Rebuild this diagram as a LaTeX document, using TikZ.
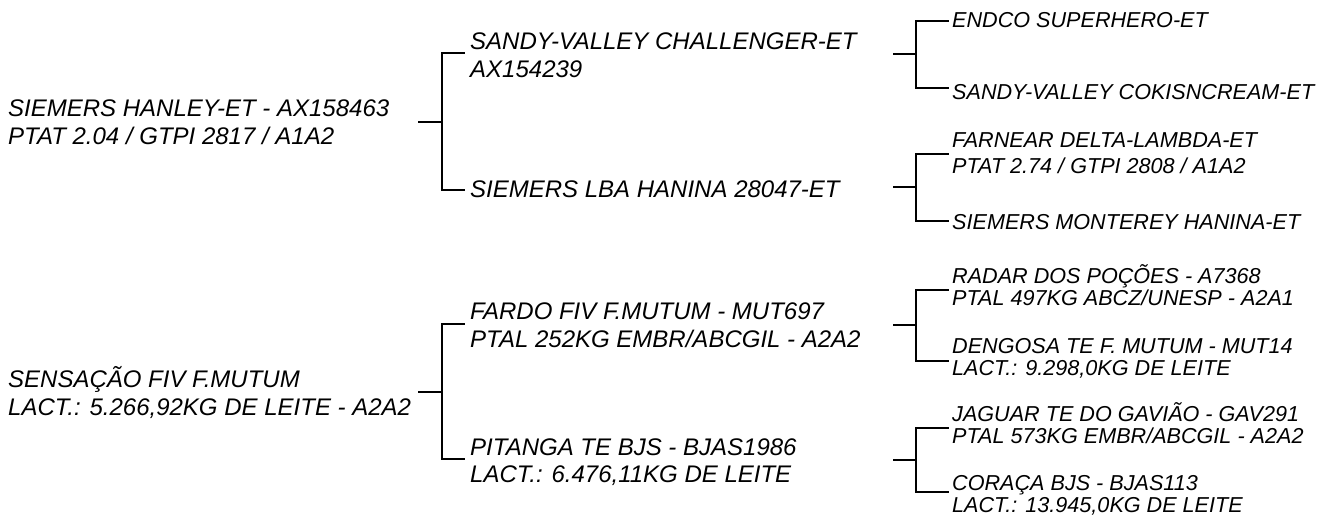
\documentclass[tikz,border=0pt]{standalone}
\usepackage{fontspec}
\setmainfont{Liberation Sans}
\tikzset{
  big/.style={inner sep=0pt, anchor=base west, font=\fontsize{24}{28}\selectfont\itshape},
  small/.style={inner sep=0pt, anchor=base west, font=\fontsize{21.6}{22}\selectfont\itshape},
  conn/.style={line width=2pt, line join=miter, line cap=rect}
}
\newcommand{\brk}[7]{%
  \coordinate (#1s) at (#2,#6);
  \coordinate (#1j) at (#3,#6);
  \coordinate (#1t) at (#4,#5);
  \coordinate (#1b) at (#4,#7);
  \draw[conn] (#1s) -- (#1j);
  \draw[conn] (#1t) -| (#1j) |- (#1b);
}
\begin{document}
\begin{tikzpicture}[x=1pt,y=-1pt]
\useasboundingbox (0,0) rectangle (1324,515);
% roots
\node[big] (r1a) at (8,116) {SIEMERS HANLEY-ET - AX158463};
\node[big] (r1b) at (8,144) {PTAT 2.04 / GTPI 2817 / A1A2};
\node[big] (r2a) at (8,387) {SENSAÇÃO FIV F.MUTUM};
\node[big] (r2b) at (8,415) {LACT.: 5.266,92KG DE LEITE - A2A2};
% middle
\node[big] (m1a) at (470,49) {SANDY-VALLEY CHALLENGER-ET};
\node[big] (m1b) at (470,77) {AX154239};
\node[big] (m2a) at (470,197) {SIEMERS LBA HANINA 28047-ET};
\node[big] (m3a) at (470,319) {FARDO FIV F.MUTUM - MUT697};
\node[big] (m3b) at (470,347) {PTAL 252KG EMBR/ABCGIL - A2A2};
\node[big] (m4a) at (470,455) {PITANGA TE BJS - BJAS1986};
\node[big] (m4b) at (470,482) {LACT.: 6.476,11KG DE LEITE};
% right
\node[small] (g1a) at (952,27) {ENDCO SUPERHERO-ET};
\node[small] (g2a) at (952,99) {SANDY-VALLEY COKISNCREAM-ET};
\node[small] (g3a) at (952,147) {FARNEAR DELTA-LAMBDA-ET};
\node[small] (g3b) at (952,173) {PTAT 2.74 / GTPI 2808 / A1A2};
\node[small] (g4a) at (952,229) {SIEMERS MONTEREY HANINA-ET};
\node[small] (g5a) at (952,283) {RADAR DOS POÇÕES - A7368};
\node[small] (g5b) at (952,305) {PTAL 497KG ABCZ/UNESP - A2A1};
\node[small] (g6a) at (952,353) {DENGOSA TE F. MUTUM - MUT14};
\node[small] (g6b) at (952,375) {LACT.: 9.298,0KG DE LEITE};
\node[small] (g7a) at (952,421) {JAGUAR TE DO GAVIÃO - GAV291};
\node[small] (g7b) at (952,443) {PTAL 573KG EMBR/ABCGIL - A2A2};
\node[small] (g8a) at (952,490) {CORAÇA BJS - BJAS113};
\node[small] (g8b) at (952,512) {LACT.: 13.945,0KG DE LEITE};
% brackets
\brk{ba}{419}{442}{464}{53}{122}{190}
\brk{bb}{419}{442}{464}{324}{392}{459}
\brk{bc}{894}{916}{948}{21}{54}{88}
\brk{bd}{894}{916}{948}{154}{187}{221}
\brk{be}{894}{916}{948}{290}{325}{361}
\brk{bf}{894}{916}{948}{428}{460}{492}
\end{tikzpicture}
\end{document}
